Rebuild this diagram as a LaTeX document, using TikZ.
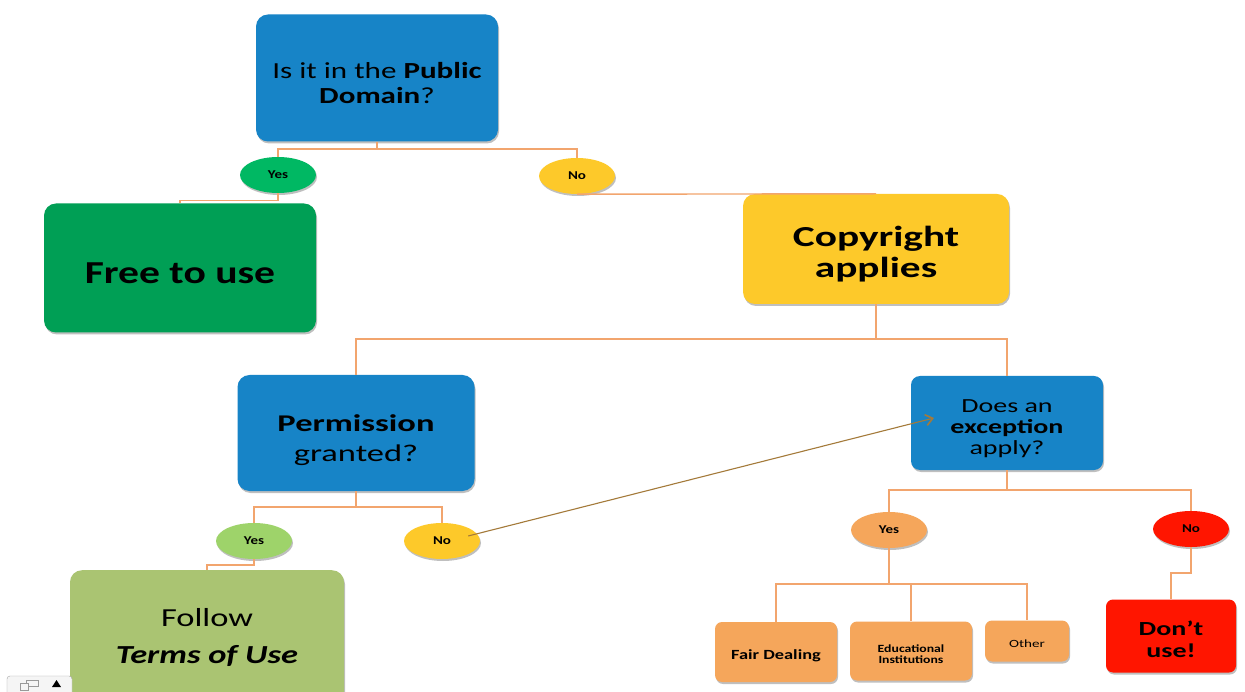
\documentclass[tikz,border=0pt]{standalone}
\usepackage{fontspec}
\setmainfont{Carlito}[FakeStretch=1.25]
\usetikzlibrary{shadows,arrows.meta,shapes.geometric}
\definecolor{cblue}{HTML}{1784C7}
\definecolor{cgreen}{HTML}{00B863}
\definecolor{cdgreen}{HTML}{009F55}
\definecolor{cyellow}{HTML}{FDC92A}
\definecolor{clgreen}{HTML}{9ED36A}
\definecolor{colive}{HTML}{AAC472}
\definecolor{corange}{HTML}{F5A65B}
\definecolor{cred}{HTML}{FF1500}
\definecolor{cline}{HTML}{F2A56E}
\definecolor{carrow}{HTML}{A47A3A}
\tikzset{
  box/.style={rectangle, rounded corners=12pt, inner sep=0pt,
    drop shadow={shadow xshift=1pt, shadow yshift=-2pt, opacity=0.25, fill=black}},
  sbox/.style={box, rounded corners=7pt},
  btext/.style={align=center, inner sep=0pt, transform shape},
  oval/.style={ellipse, minimum width=76pt, minimum height=36pt, inner sep=0pt,
    font=\fontsize{12}{13}\selectfont\bfseries,
    drop shadow={shadow xshift=1pt, shadow yshift=-2pt, opacity=0.25, fill=black}},
  conn/.style={draw=cline, line width=1.4pt},
  jump/.style={draw=carrow, line width=1.1pt, -{Straight Barb[length=7pt,width=11pt,line width=1.6pt]}}
}
\begin{document}
\begin{tikzpicture}[x=1pt,y=-1pt]
\useasboundingbox (0,0) rectangle (1245,692);
\clip (0,0) rectangle (1245,692);
\fill[white] (0,0) rectangle (1245,692);

% boxes
\node[box, fill=cblue, minimum width=242pt, minimum height=127pt] (pd) at (377,78) {};
\node[btext, xscale=1.08, font=\fontsize{23}{25}\selectfont] (pdT) at (377,83) {Is it in the \textbf{Public}\\\textbf{Domain}?};
\node[oval, fill=cgreen] (y1) at (278,175) {Yes};
\node[oval, fill=cyellow] (n1) at (577,176) {No};
\node[box, fill=cdgreen, minimum width=272pt, minimum height=129pt] (free) at (180,268) {};
\node[btext, xscale=1.04, font=\fontsize{32}{34}\selectfont\bfseries] (freeT) at (180,273) {Free to use};
\node[box, fill=cyellow, minimum width=266pt, minimum height=110pt] (copy) at (876,249) {};
\node[btext, xscale=1.14, font=\fontsize{29}{31}\selectfont\bfseries] (copyT) at (876,254) {Copyright\\applies};
\node[box, fill=cblue, minimum width=237pt, minimum height=116pt] (perm) at (356,433) {};
\node[btext, xscale=1.15, font=\fontsize{24}{30}\selectfont] (permT) at (356,440) {\textbf{Permission}\\granted?};
\node[box, fill=cblue, minimum width=192pt, minimum height=94pt, rounded corners=9pt] (exc) at (1007,423) {};
\node[btext, xscale=1.12, font=\fontsize{20}{21}\selectfont] (excT) at (1007,429) {Does an\\\textbf{exception}\\apply?};
\node[oval, fill=clgreen] (y2) at (254,541) {Yes};
\node[oval, fill=cyellow] (n2) at (442,541) {No};
\node[box, fill=colive, minimum width=274pt, minimum height=140pt, anchor=north] (follow) at (207,570) {};
\node[btext, xscale=1.06, font=\fontsize{26}{37}\selectfont] (followT) at (207,637) {Follow\\\textbf{\textit{Terms of Use}}};
\node[oval, fill=corange] (y3) at (889,530) {Yes};
\node[oval, fill=cred] (n3) at (1191,529) {No};
\node[sbox, fill=corange, minimum width=122pt, minimum height=60pt] (fair) at (776,652) {};
\node[btext, xscale=1.05, font=\fontsize{14}{15}\selectfont\bfseries] (fairT) at (776,656) {Fair Dealing};
\node[sbox, fill=corange, minimum width=122pt, minimum height=59pt] (edu) at (911,651) {};
\node[btext, font=\fontsize{11}{11}\selectfont\bfseries] (eduT) at (911,654) {Educational\\Institutions};
\node[sbox, fill=corange, minimum width=84pt, minimum height=41pt] (other) at (1027,641) {};
\node[btext, xscale=1.1, font=\fontsize{11}{12}\selectfont] (otherT) at (1027,644) {Other};
\node[sbox, fill=cred, minimum width=130pt, minimum height=73pt] (dont) at (1171,636) {};
\node[btext, xscale=1.12, font=\fontsize{20}{22}\selectfont\bfseries] (dontT) at (1171,639) {Don’t\\use!};

% connectors
\coordinate (j1) at (377,149);
\draw[conn] (pd.south) -- (j1);
\draw[conn] (j1) -| (y1.north);
\draw[conn] (j1) -| (n1.north);
\draw[conn] (y1.south) |- ([yshift=3pt]free.north) -- (free.north);
\draw[conn] (n1.south) -- (copy.north);
\coordinate (j2) at (876,339);
\draw[conn] (copy.south) -- (j2);
\draw[conn] (j2) -| (perm.north);
\draw[conn] (j2) -| (exc.north);
\coordinate (j3) at (356,507);
\draw[conn] (perm.south) -- (j3);
\draw[conn] (j3) -| (y2.north);
\draw[conn] (j3) -| (n2.north);
\draw[conn] (y2.south) |- ([yshift=5pt]follow.north) -- (follow.north);
\coordinate (j4) at (1007,490);
\draw[conn] (exc.south) -- (j4);
\draw[conn] (j4) -| (y3.north);
\draw[conn] (j4) -| (n3.north);
\coordinate (j5) at (889,584);
\draw[conn] (y3.south) -- (j5);
\draw[conn] (j5) -| (fair.north);
\draw[conn] (j5) -| (edu.north);
\draw[conn] (j5) -| (other.north);
\coordinate (j6) at (1191,573);
\draw[conn] (n3.south) -- (j6) -| (dont.north);
\coordinate (arrEnd) at (934,418);
\draw[jump] ([shift={(-12pt,5pt)}]n2.east) -- (arrEnd);

% toolbar
\draw[gray!70, fill=gray!8, rounded corners=3pt] (7,676) rectangle (72,700);
\draw[gray!80, line width=0.6pt] (26,680) rectangle (38,686);
\draw[gray!80, line width=0.6pt, fill=gray!8] (20,683) rectangle (28,690);
\fill[black] (52,687) -- (61,687) -- (56.5,680) -- cycle;
\end{tikzpicture}
\end{document}
